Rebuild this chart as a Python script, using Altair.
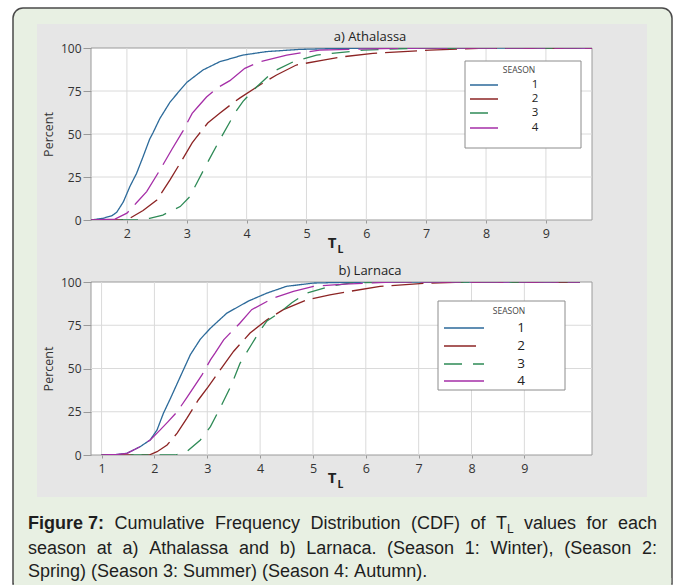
import altair as alt
import pandas as pd

# ---------------- data ----------------
SEASONS = ["1", "2", "3", "4"]
SEASON_COLORS = ["#2c6a9a", "#8c2424", "#2e8a56", "#a52ea7"]
SEASON_DASHES = [[1, 0], [32, 8], [18, 11], [40, 9]]

# a) Athalassa  (T_L value, cumulative percent)
ATH_S1_T = [1.4, 1.6, 1.75, 1.83, 1.94, 2.05, 2.16, 2.27, 2.38, 2.44, 2.55, 2.72, 2.89, 3.0, 3.27, 3.55, 3.94, 4.33, 4.89, 5.5, 6.2, 9.77]
ATH_S1_P = [0, 1, 2.5, 4.5, 10.5, 19.5, 27, 36.8, 47, 51, 59, 68.5, 75.6, 80, 87.2, 92, 95.9, 97.9, 99.2, 99.7, 100, 100]
ATH_S2_T = [1.4, 1.9, 2.05, 2.27, 2.5, 2.72, 2.94, 3.09, 3.16, 3.35, 3.55, 3.77, 3.89, 4.22, 4.5, 4.83, 5.28, 5.61, 6.11, 7.06, 8.0, 9.77]
ATH_S2_P = [0, 0, 1, 5.5, 11.6, 23.3, 36, 44.8, 48, 56.4, 62, 68, 71, 78.5, 84.3, 90.1, 93, 94.9, 96.9, 98.8, 100, 100]
ATH_S3_T = [1.4, 2.2, 2.38, 2.6, 2.89, 3.05, 3.19, 3.34, 3.55, 3.72, 3.8, 3.94, 4.17, 4.44, 4.78, 5.17, 5.95, 7.0, 9.77]
ATH_S3_P = [0, 0, 1, 2.9, 7.8, 13.5, 23, 33, 46.5, 57, 62, 69, 77.5, 86.2, 92, 95.9, 98.8, 100, 100]
ATH_S4_T = [1.4, 1.8, 2.0, 2.16, 2.33, 2.55, 2.75, 2.94, 3.09, 3.19, 3.33, 3.52, 3.72, 3.97, 4.22, 4.67, 5.22, 6.0, 7.0, 9.77]
ATH_S4_P = [0, 0.5, 4, 10, 16.5, 29, 41, 52, 62, 66, 71.5, 77, 81, 88.2, 92, 95.9, 98.8, 99.5, 100, 100]

# b) Larnaca
LAR_S1_T = [1.0, 1.3, 1.48, 1.73, 1.92, 2.05, 2.17, 2.3, 2.49, 2.68, 2.87, 3.06, 3.37, 3.78, 4.13, 4.5, 5.01, 5.6, 6.5, 10.05]
LAR_S1_P = [0, 0.3, 1, 4.8, 8.7, 14.5, 24.1, 32.5, 45.3, 58, 67, 73.3, 82, 89, 93.6, 97.5, 99.4, 99.8, 100, 100]
LAR_S2_T = [1.0, 1.9, 2.05, 2.24, 2.43, 2.61, 2.83, 3.02, 3.31, 3.5, 3.81, 4.13, 4.44, 4.88, 5.32, 5.7, 6.27, 7.21, 8.0, 10.05]
LAR_S2_P = [0, 0, 1.9, 5.8, 12.6, 21, 31.8, 39.5, 52, 60, 70.5, 78.2, 84, 89.7, 92.6, 94.6, 97.5, 99.4, 100, 100]
LAR_S3_T = [1.0, 2.4, 2.61, 2.87, 3.06, 3.24, 3.45, 3.62, 3.84, 4.0, 4.13, 4.38, 4.6, 4.88, 5.32, 5.7, 6.5, 10.05]
LAR_S3_P = [0, 0, 1.9, 8.7, 16.4, 27, 40, 53, 64, 72, 77.5, 82.5, 88, 93.6, 97.5, 99.4, 100, 100]
LAR_S4_T = [1.0, 1.3, 1.48, 1.73, 1.92, 2.11, 2.25, 2.43, 2.61, 2.9, 3.06, 3.15, 3.31, 3.62, 3.84, 4.25, 4.63, 5.01, 5.6, 6.5, 10.05]
LAR_S4_P = [0, 0.3, 1, 4.8, 8.7, 14.5, 19, 25, 33, 46.3, 55, 59, 66.6, 76.3, 84, 90.7, 94.6, 97.5, 98.8, 100, 100]

ATH_XTICKS = [2, 3, 4, 5, 6, 7, 8, 9]
LAR_XTICKS = [1, 2, 3, 4, 5, 6, 7, 8, 9]
Y_TICKS = [0, 25, 50, 75, 100]
Y_GRID = [25, 50, 75]

CAP_BOLD = "Figure 7:"
CAP_L1 = "Cumulative Frequency Distribution (CDF) of T_L values for each"
CAP_L2 = "season at a) Athalassa and b) Larnaca. (Season 1: Winter), (Season 2:"
CAP_L3 = "Spring) (Season 3: Summer) (Season 4: Autumn)."

# ---------------- helpers ----------------
FONT = "Open Sans"
CAP_FONT = "Liberation Sans"
W = 501


def series_frame(ts, ps):
    rows = []
    for s, tt, pp in zip(SEASONS, ts, ps):
        for i, (t, p) in enumerate(zip(tt, pp)):
            rows.append({"season": s, "tl": t, "pct": p, "order": i})
    return pd.DataFrame(rows)


def one():
    return pd.DataFrame({"k": [0]})


def rect(x1, x2, y1, y2, **kw):
    return alt.Chart(one()).mark_rect(**kw).encode(
        x=alt.value(x1), x2=alt.value(x2), y=alt.value(y1), y2=alt.value(y2)
    )


def label(txt, x, y, **kw):
    return alt.Chart(one()).mark_text(**kw).encode(
        x=alt.value(x), y=alt.value(y), text=alt.value(txt)
    )


COLOR_SCALE = alt.Scale(domain=SEASONS, range=SEASON_COLORS)
DASH_SCALE = alt.Scale(domain=SEASONS, range=SEASON_DASHES)


def panel(df, x_domain, x_ticks, h, title, leg, before):
    """leg: dict with legend box / row layout in panel pixels."""
    xs = alt.Scale(domain=x_domain, nice=False, zero=False)
    ys = alt.Scale(domain=[0, 100], nice=False, zero=False)
    x_axis = alt.Axis(
        values=x_ticks, title=None, grid=False, domain=False, tickSize=3,
        tickColor="#999", labelFontSize=12.5, labelColor="#333", labelPadding=4,
        labelFont=FONT, zindex=1, labelFlush=False)
    y_axis = alt.Axis(
        values=Y_TICKS, title="Percent", grid=False, domain=False, tickSize=8,
        tickColor="#999", labelFontSize=12, labelColor="#333", labelPadding=2,
        labelFont=FONT, titleFont=FONT, titleFontSize=12.5, titleFontWeight="normal",
        titleColor="#333", titleX=-43, titleY=h / 2, titleBaseline="middle",
        zindex=1)
    box = rect(0, W, 0, h, fill="white", stroke="#9a9a9a", strokeWidth=1)
    vgrid = alt.Chart(pd.DataFrame({"tl": x_ticks})).mark_rule(color="#dadada", strokeWidth=1).encode(
        x=alt.X("tl:Q", scale=xs, axis=x_axis), y=alt.value(0), y2=alt.value(h)
    )
    hgrid = alt.Chart(pd.DataFrame({"pct": Y_GRID})).mark_rule(color="#dadada", strokeWidth=1).encode(
        y=alt.Y("pct:Q", scale=ys, axis=y_axis), x=alt.value(0), x2=alt.value(W)
    )
    lines = alt.Chart(df).mark_line(strokeWidth=1.3, clip=True).encode(
        x=alt.X("tl:Q", scale=xs, axis=x_axis),
        y=alt.Y("pct:Q", scale=ys, axis=y_axis),
        color=alt.Color("season:N", scale=COLOR_SCALE, legend=None),
        strokeDash=alt.StrokeDash("season:N", scale=DASH_SCALE, legend=None),
        order="order:Q",
    )
    # legend (drawn in the panel, rows placed on the percent scale)
    bx1, bx2, by1, by2 = leg["box"]
    leg_box = rect(bx1, bx2, by1, by2, fill="white", stroke="#8c8c8c", strokeWidth=1)
    leg_title = label("SEASON", leg["title"][0], leg["title"][1], font=FONT, fontSize=8.5,
                      color="#444", align="center", baseline="middle")
    leg_df = pd.DataFrame({"season": SEASONS,
                           "pct": [100.0 * (1 - r / h) for r in leg["rows"]]})
    leg_sym = alt.Chart(leg_df).mark_rule(strokeWidth=1.5).encode(
        x=alt.value(leg["sym"][0]), x2=alt.value(leg["sym"][1]),
        y=alt.Y("pct:Q", scale=ys, axis=y_axis),
        color=alt.Color("season:N", scale=COLOR_SCALE, legend=None),
        strokeDash=alt.StrokeDash("season:N", scale=DASH_SCALE, legend=None),
    )
    leg_lab = alt.Chart(leg_df).mark_text(font=FONT, fontSize=leg["fs"], color="#222",
                                          align="center", baseline="middle").encode(
        x=alt.value(leg["lab"]), y=alt.Y("pct:Q", scale=ys, axis=y_axis), text="season:N"
    )
    ttl = label(title, 279, -11, font=FONT, fontSize=13, color="#222", align="center", baseline="middle")
    tT = label("T", 241, h + 23, font=FONT, fontSize=15, fontWeight="bold", color="#222", align="center", baseline="middle")
    tL = label("L", 249.5, h + 30, font=FONT, fontSize=10.5, fontWeight="bold", color="#222", align="center", baseline="middle")
    layers = before + [box, vgrid, hgrid, lines, leg_box, leg_title, leg_sym, leg_lab, ttl, tT, tL]
    return alt.layer(*layers).properties(width=W, height=h)


# ---- caption layout (justified like the reference) ----
REG = {' ': 278, '(': 333, ')': 333, '.': 278, ':': 278, ',': 278,
       'A': 667, 'B': 667, 'C': 722, 'D': 722, 'E': 667, 'F': 611, 'L': 556, 'S': 667,
       'T': 611, 'W': 944, 'a': 556, 'b': 556, 'c': 500, 'd': 556, 'e': 556, 'f': 278,
       'g': 556, 'h': 556, 'i': 222, 'j': 222, 'k': 500, 'l': 222, 'm': 833, 'n': 556,
       'o': 556, 'p': 556, 'q': 556, 'r': 333, 's': 500, 't': 278, 'u': 556, 'v': 500,
       'w': 722, 'x': 500, 'y': 500, 'z': 500}
BOLD = {' ': 278, 'F': 611, 'i': 278, 'g': 611, 'u': 611, 'r': 389, 'e': 556, ':': 333}
CAP_FS = 18
SUB_FS = 12


def tw(s, table, fs):
    return sum(table.get(c, 556) for c in s) * fs / 1000.0


def layout_line(tokens, y, left, right, justify):
    widths = []
    for txt, kind in tokens:
        if kind == "b":
            widths.append(tw(txt, BOLD, CAP_FS))
        elif kind == "s":
            widths.append(tw("T", REG, CAP_FS) + tw("L", REG, SUB_FS))
        else:
            widths.append(tw(txt, REG, CAP_FS))
    gap = (right - left - sum(widths)) / (len(tokens) - 1) if justify else tw(" ", REG, CAP_FS)
    rows = []
    x = left
    for (txt, kind), w in zip(tokens, widths):
        if kind == "s":
            rows.append({"t": "T", "x": x, "y": y, "fs": CAP_FS, "kind": "r"})
            rows.append({"t": "L", "x": x + tw("T", REG, CAP_FS), "y": y + 4, "fs": SUB_FS, "kind": "r"})
        else:
            rows.append({"t": txt, "x": x, "y": y, "fs": CAP_FS, "kind": kind})
        x += w + gap
    return rows


def tokens_of(s):
    return [(w, "s" if w == "T_L" else "r") for w in s.split(" ")]


CAP_LEFT, CAP_RIGHT = 28 - 91, 657 - 91
cap_rows = []
cap_rows += layout_line([(CAP_BOLD, "b")] + tokens_of(CAP_L1), 12, CAP_LEFT, CAP_RIGHT, True)
cap_rows += layout_line(tokens_of(CAP_L2), 37, CAP_LEFT, CAP_RIGHT, True)
cap_rows += layout_line(tokens_of(CAP_L3), 60, CAP_LEFT, CAP_RIGHT, False)
cap_df = pd.DataFrame(cap_rows)


def cap_layer(kind, weight):
    return alt.Chart(cap_df[cap_df["kind"] == kind]).mark_text(
        align="left", baseline="alphabetic", font=CAP_FONT, fontWeight=weight, color="#1e1e1e"
    ).encode(
        x=alt.X("x:Q", scale=None), y=alt.Y("y:Q", scale=None),
        size=alt.Size("fs:Q", scale=None, legend=None), text="t:N",
    )


# ---------------- charts ----------------
GREEN = "#e8f0e3"
decor = [
    rect(-91, 586, -48, 537, fill="white"),
    rect(-78, 581, -40, 536, fill=GREEN, stroke="#4a4a4a", strokeWidth=1.5,
         cornerRadiusTopLeft=10, cornerRadiusTopRight=10),
    rect(-54, 556, -24, 449, fill="#e6e6e6"),
]

ATH_LEGEND = {"box": (374, 490, 13, 100), "title": (428, 22), "rows": [37, 51, 65, 80],
              "sym": (379, 407), "lab": 444, "fs": 11.5}
LAR_LEGEND = {"box": (347, 474, 19, 108), "title": (418, 29), "rows": [46, 64, 82, 99],
              "sym": (353, 393), "lab": 430, "fs": 13.5}

top = panel(series_frame([ATH_S1_T, ATH_S2_T, ATH_S3_T, ATH_S4_T], [ATH_S1_P, ATH_S2_P, ATH_S3_P, ATH_S4_P]),
            [1.4, 9.77], ATH_XTICKS, 172, "a) Athalassa", ATH_LEGEND, decor)
bottom = panel(series_frame([LAR_S1_T, LAR_S2_T, LAR_S3_T, LAR_S4_T], [LAR_S1_P, LAR_S2_P, LAR_S3_P, LAR_S4_P]),
               [0.8, 10.28], LAR_XTICKS, 173, "b) Larnaca", LAR_LEGEND, [])

cover = rect(-77, 580.2, 61, 68, fill=GREEN)
caption = alt.layer(cover, cap_layer("b", "bold"), cap_layer("r", "normal")).properties(width=W, height=50)

chart = alt.vconcat(top, bottom, caption, spacing=62, bounds="flush").resolve_scale(
    x="independent", y="independent", color="independent", strokeDash="independent"
).properties(
    padding=0, background="white"
).configure_view(stroke=None)

chart.save("out.html", embed_options={"renderer": "svg", "actions": False})
